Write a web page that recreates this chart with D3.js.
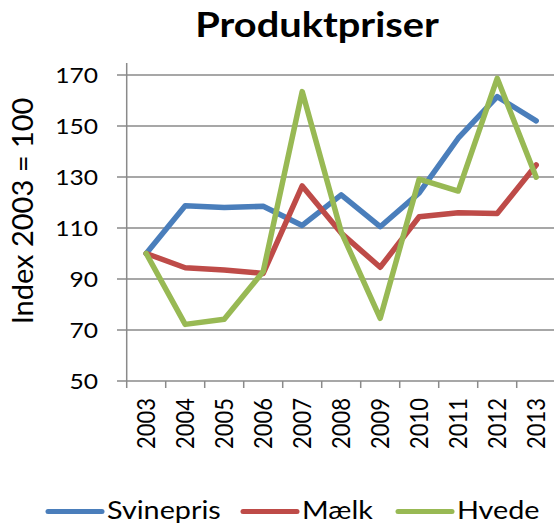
<!DOCTYPE html>
<html>
<head>
<meta charset="utf-8">
<script src="https://cdn.jsdelivr.net/npm/d3@7"></script>
<style>
  body { margin: 0; background: #fff; }
  svg text { font-family: Lato, "Open Sans", sans-serif; fill: #000; }
</style>
</head>
<body>
<div id="chart"></div>
<script>
// data
const years = ["2003","2004","2005","2006","2007","2008","2009","2010","2011","2012","2013"];
const svinepris = [100, 118.7, 118, 118.5, 111, 123, 110.5, 123.8, 145.2, 161.5, 152];
const maelk = [100, 94.4, 93.5, 92.2, 126.5, 108, 94.6, 114.4, 116, 115.7, 134.7];
const hvede = [100, 72.2, 74.2, 92.9, 163.5, 108.5, 74.6, 129.2, 124.5, 168.7, 129.9];
const yTicks = [50, 70, 90, 110, 130, 150, 170];
const seriesNames = ["Svinepris", "Mælk", "Hvede"];
const colors = ["#4a7ebb", "#be4b48", "#98b954"];

const width = 554, height = 525;
const axisColor = "#8a8a8a";

const svg = d3.select("#chart")
  .append("svg")
  .attr("width", width)
  .attr("height", height);

const x = d3.scaleBand().domain(years).range([126.7, 555.7]);
const y = d3.scaleLinear().domain([50, 170]).range([381, 75]);

/**
 * gridlines
 */
svg.append("g")
  .selectAll("line")
  .data(yTicks)
  .join("line")
  .attr("x1", 117)
  .attr("x2", width)
  .attr("y1", d => y(d))
  .attr("y2", d => y(d))
  .attr("stroke", axisColor)
  .attr("stroke-width", 1.5);

// y axis line
svg.append("line")
  .attr("x1", 126.7).attr("x2", 126.7)
  .attr("y1", 63).attr("y2", 381)
  .attr("stroke", axisColor)
  .attr("stroke-width", 1.5);

// x ticks (category boundaries)
svg.append("g")
  .selectAll("line")
  .data(years.concat(["end"]))
  .join("line")
  .attr("x1", (d, i) => 126.7 + i * x.step())
  .attr("x2", (d, i) => 126.7 + i * x.step())
  .attr("y1", 381)
  .attr("y2", 388)
  .attr("stroke", axisColor)
  .attr("stroke-width", 1.5);

// y tick labels
svg.append("g")
  .selectAll("text")
  .data(yTicks)
  .join("text")
  .attr("transform", d => "translate(98," + y(d) + ") scale(1.12,1)")
  .attr("dy", "0.36em")
  .attr("text-anchor", "end")
  .style("font-size", "22px")
  .text(d => d);

// x tick labels (rotated)
svg.append("g")
  .selectAll("text")
  .data(years)
  .join("text")
  .attr("transform", d => "translate(" + (x(d) + x.bandwidth() / 2) + ",398) scale(1.12,1) rotate(-90)")
  .attr("dy", "0.36em")
  .attr("text-anchor", "end")
  .style("font-size", "22px")
  .text(d => d);

// y axis title
svg.append("text")
  .attr("transform", "translate(23,211) rotate(-90)")
  .attr("dy", "0.36em")
  .attr("text-anchor", "middle")
  .style("font-size", "29px")
  .text("Index 2003 = 100");

// title
svg.append("text")
  .attr("transform", "translate(317,37) scale(1.17,1)")
  .attr("text-anchor", "middle")
  .style("font-size", "34px")
  .style("font-weight", "bold")
  .text("Produktpriser");

/**
 * series lines
 */
const line = d3.line()
  .x((d, i) => x(years[i]) + x.bandwidth() / 2)
  .y(d => y(d));

const allSeries = [svinepris, maelk, hvede];

svg.append("g")
  .selectAll("path")
  .data(allSeries)
  .join("path")
  .attr("d", d => line(d))
  .attr("fill", "none")
  .attr("stroke", (d, i) => colors[i])
  .attr("stroke-width", 5.5)
  .attr("stroke-linejoin", "round")
  .attr("stroke-linecap", "round");

/**
 * legend
 */
const legendX = [48, 243, 398];
const legend = svg.append("g")
  .selectAll("g")
  .data(seriesNames)
  .join("g")
  .attr("transform", (d, i) => "translate(" + legendX[i] + ",511.5)");

legend.append("line")
  .attr("x1", 0).attr("x2", 54)
  .attr("stroke", (d, i) => colors[i])
  .attr("stroke-width", 5)
  .attr("stroke-linecap", "round");

legend.append("text")
  .attr("transform", "translate(59,0) scale(1.15,1)")
  .attr("dy", "0.3em")
  .style("font-size", "25px")
  .text(d => d);
</script>
</body>
</html>
